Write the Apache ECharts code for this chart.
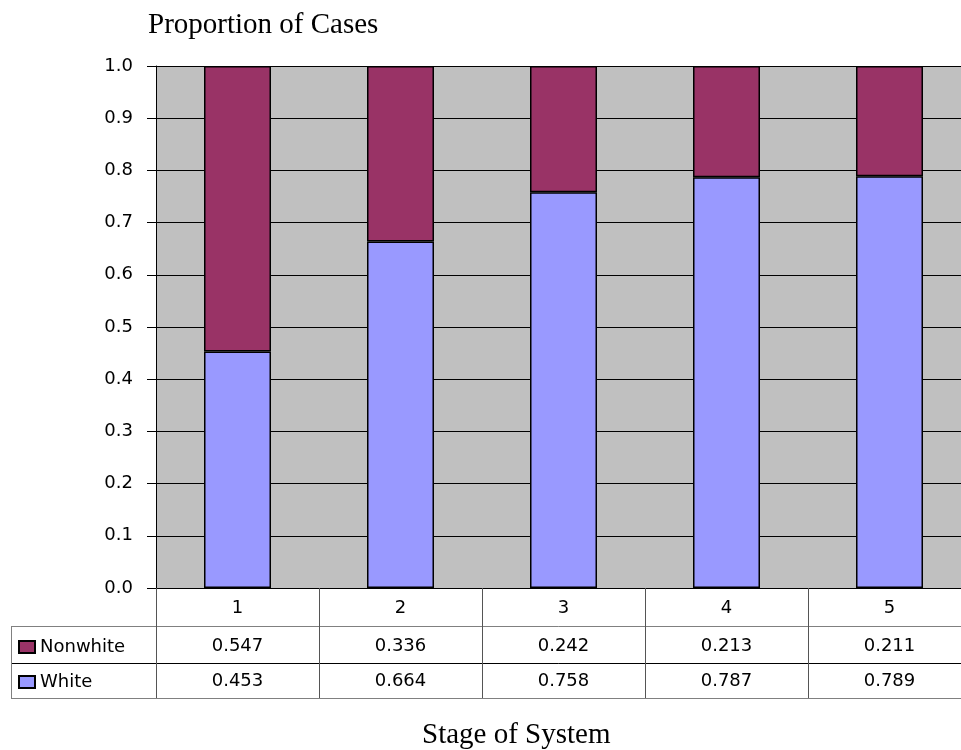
<!DOCTYPE html>
<html>
<head>
<meta charset="utf-8">
<script src="https://cdn.jsdelivr.net/npm/echarts@6/dist/echarts.min.js"></script>
<style>
  html, body { margin: 0; padding: 0; background: #fff; }
  #chart { width: 961px; height: 750px; }
</style>
</head>
<body>
<div id="chart"></div>
<script>
// Stages of the system and the share of cases in each group
const stages = ['1', '2', '3', '4', '5'];
const nonwhite = [0.547, 0.336, 0.242, 0.213, 0.211];
const white = [0.453, 0.664, 0.758, 0.787, 0.789];
const seriesNames = ['Nonwhite', 'White'];

const SANS = '"DejaVu Sans", "Liberation Sans", Arial, sans-serif';
const SERIF = '"Liberation Serif", "Times New Roman", serif';
const COL_NONWHITE = '#993366';
const COL_WHITE = '#9999FF';

// Plot frame and data-table row geometry
const PLOT_LEFT = 156, PLOT_TOP = 66, PLOT_W = 815, PLOT_H = 522;
const ROW_H = [38, 37, 35];
const TABLE_LEFT = 11;
const y0 = PLOT_TOP + PLOT_H;
const y1 = y0 + ROW_H[0];
const y2 = y1 + ROW_H[1];
const y3 = y2 + ROW_H[2];

const tableLabel = {
  interval: 0,
  fontFamily: SANS,
  fontSize: 18,
  lineHeight: 18,
  color: '#000'
};

function tableAxis(data, offset, tickLen, lineColor, margin) {
  return {
    type: 'category',
    gridIndex: 0,
    position: 'bottom',
    offset: offset,
    data: data,
    axisLine: { show: true, lineStyle: { color: lineColor, width: 1 } },
    axisTick: { show: true, interval: 0, alignWithLabel: false, inside: false,
                length: tickLen, lineStyle: { color: '#555', width: 1 } },
    axisLabel: Object.assign({ margin: margin }, tableLabel),
    splitLine: { show: false }
  };
}

const chart = echarts.init(document.getElementById('chart'), null, { renderer: 'canvas' });

chart.setOption({
  animation: false,
  backgroundColor: '#fff',
  title: [
    { text: 'Proportion of Cases', left: 143, top: 6,
      textStyle: { fontFamily: SERIF, fontSize: 29, fontWeight: 'normal', color: '#000' } },
    { text: 'Stage of System', left: 417, top: 716,
      textStyle: { fontFamily: SERIF, fontSize: 29, fontWeight: 'normal', color: '#000' } }
  ],
  legend: {
    data: seriesNames,
    orient: 'vertical',
    left: 18,
    top: 637,
    padding: 0,
    itemWidth: 16,
    itemHeight: 12,
    itemGap: 15,
    icon: 'rect',
    textStyle: { fontFamily: SANS, fontSize: 18, lineHeight: 20, color: '#000' },
    selectedMode: false
  },
  grid: {
    left: PLOT_LEFT, top: PLOT_TOP, width: PLOT_W, height: PLOT_H,
    outerBoundsMode: 'none',
    show: true, backgroundColor: '#C0C0C0', borderWidth: 0
  },
  xAxis: [
    tableAxis(stages, 0, ROW_H[0], '#000', 11),
    tableAxis(nonwhite.map(v => v.toFixed(3)), ROW_H[0], ROW_H[1], '#808080', 11),
    tableAxis(white.map(v => v.toFixed(3)), ROW_H[0] + ROW_H[1], ROW_H[2], '#000', 9)
  ],
  yAxis: {
    type: 'value',
    min: 0,
    max: 1,
    interval: 0.1,
    axisLine: { show: true, lineStyle: { color: '#000', width: 1 } },
    axisTick: { show: true, length: 9, lineStyle: { color: '#000', width: 1 } },
    axisLabel: { margin: 23, fontFamily: SANS, fontSize: 18, color: '#000',
                 formatter: v => v.toFixed(1) },
    splitLine: { show: true, lineStyle: { color: '#000', width: 1 } }
  },
  series: [
    {
      name: 'White', type: 'bar', stack: 'share', xAxisIndex: 0,
      data: white, barWidth: 67,
      itemStyle: { color: COL_WHITE, borderColor: '#000', borderWidth: 1.5 }
    },
    {
      name: 'Nonwhite', type: 'bar', stack: 'share', xAxisIndex: 0,
      data: nonwhite, barWidth: 67,
      itemStyle: { color: COL_NONWHITE, borderColor: '#000', borderWidth: 1.5 }
    }
  ],
  // Frame of the legend cells on the left of the data table, and the table's bottom rule
  graphic: [
    { type: 'line', shape: { x1: TABLE_LEFT, y1: y1 + 0.5, x2: PLOT_LEFT, y2: y1 + 0.5 },
      style: { stroke: '#808080', lineWidth: 1 }, silent: true },
    { type: 'line', shape: { x1: TABLE_LEFT, y1: y2 + 0.5, x2: PLOT_LEFT, y2: y2 + 0.5 },
      style: { stroke: '#000', lineWidth: 1 }, silent: true },
    { type: 'line', shape: { x1: TABLE_LEFT, y1: y3 + 0.5, x2: 961, y2: y3 + 0.5 },
      style: { stroke: '#808080', lineWidth: 1 }, silent: true },
    { type: 'line', shape: { x1: TABLE_LEFT + 0.5, y1: y1, x2: TABLE_LEFT + 0.5, y2: y3 },
      style: { stroke: '#808080', lineWidth: 1 }, silent: true }
  ]
});
</script>
</body>
</html>
